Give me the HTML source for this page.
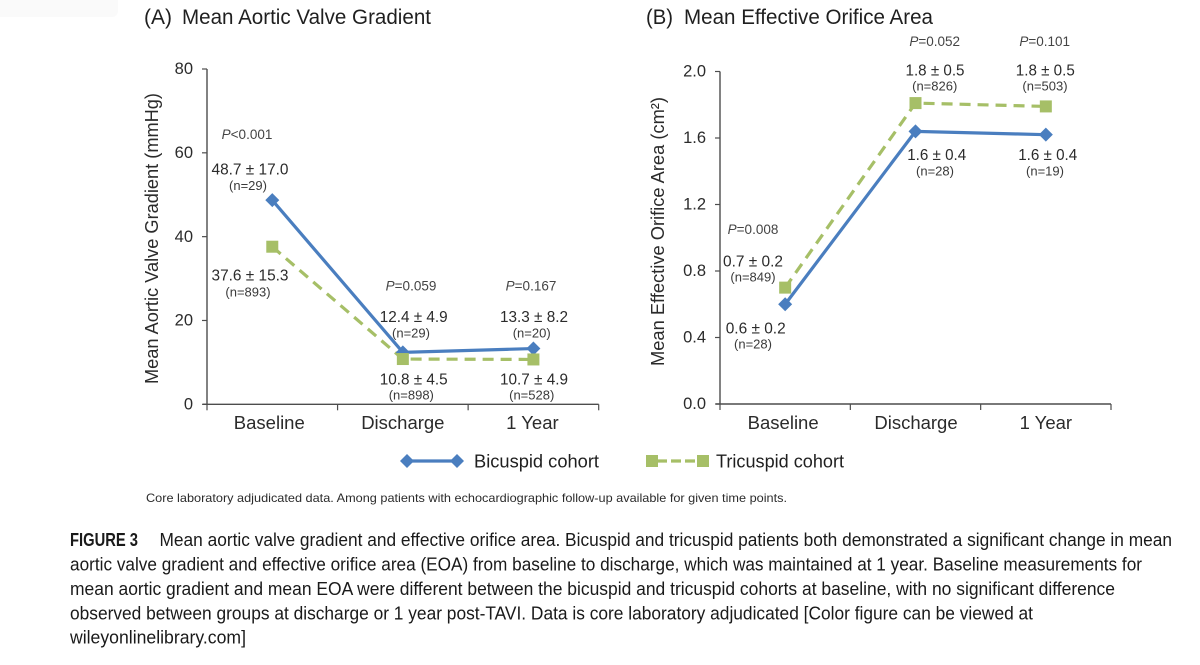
<!DOCTYPE html>
<html lang="en">
<head>
<meta charset="utf-8">
<title>Mean Aortic Valve Gradient and Effective Orifice Area</title>
<style>
html,body{margin:0;padding:0;background:#fff;}
body{width:1200px;height:665px;overflow:hidden;}
svg{display:block;filter:blur(0.3px);}
text{font-family:"Liberation Sans",sans-serif;fill:#222;}
.title{font-size:21px;fill:#1f1f1f;}
.tick{font-size:16.5px;fill:#2b2b2b;}
.cat{font-size:18.5px;fill:#2b2b2b;text-anchor:middle;}
.axt{font-size:18.5px;fill:#2b2b2b;text-anchor:middle;}
.val{font-size:16px;fill:#2b2b2b;text-anchor:middle;}
.n{font-size:13px;fill:#3a3a3a;text-anchor:middle;}
.p{font-size:13.5px;fill:#444;text-anchor:middle;}
.leg{font-size:18.5px;fill:#1f1f1f;}
.foot{font-size:12px;fill:#2b2b2b;}
.cap{font-size:18.5px;fill:#1a1a1a;}
</style>
</head>
<body>
<svg id="chart" xmlns="http://www.w3.org/2000/svg" width="1200" height="665" viewBox="0 0 1200 665">
  <rect width="1200" height="665" fill="#fff"/>
  <rect x="-10" y="-10" width="128" height="27" rx="6" fill="#fafafa"/>

  <text class="title" x="144" y="24" textLength="28" lengthAdjust="spacingAndGlyphs">(A)</text>
  <text class="title" x="182" y="24" textLength="249" lengthAdjust="spacingAndGlyphs">Mean Aortic Valve Gradient</text>
  <text class="title" x="646" y="24" textLength="27" lengthAdjust="spacingAndGlyphs">(B)</text>
  <text class="title" x="684" y="24" textLength="249" lengthAdjust="spacingAndGlyphs">Mean Effective Orifice Area</text>

  <text class="axt" transform="translate(158 238.5) rotate(-90)" textLength="291" lengthAdjust="spacingAndGlyphs">Mean Aortic Valve Gradient (mmHg)</text>
  <text class="axt" transform="translate(664 231.5) rotate(-90)" textLength="269" lengthAdjust="spacingAndGlyphs">Mean Effective Orifice Area (cm²)</text>

  <g id="axes"></g>
  <g id="marks"></g>

  <g>
    <text class="p" x="247" y="139"><tspan font-style="italic">P</tspan>&lt;0.001</text>
    <text class="val" x="250" y="174.5" textLength="77" lengthAdjust="spacingAndGlyphs">48.7 ± 17.0</text>
    <text class="n" x="248" y="190">(n=29)</text>
    <text class="val" x="250" y="280.5" textLength="77" lengthAdjust="spacingAndGlyphs">37.6 ± 15.3</text>
    <text class="n" x="248" y="296.5">(n=893)</text>
    <text class="p" x="411" y="290.5"><tspan font-style="italic">P</tspan>=0.059</text>
    <text class="p" x="531" y="290.5"><tspan font-style="italic">P</tspan>=0.167</text>
    <text class="val" x="413.7" y="322" textLength="68" lengthAdjust="spacingAndGlyphs">12.4 ± 4.9</text>
    <text class="n" x="411" y="337.5">(n=29)</text>
    <text class="val" x="534" y="322" textLength="68" lengthAdjust="spacingAndGlyphs">13.3 ± 8.2</text>
    <text class="n" x="531.7" y="337.5">(n=20)</text>
    <text class="val" x="413.7" y="384.5" textLength="68" lengthAdjust="spacingAndGlyphs">10.8 ± 4.5</text>
    <text class="n" x="411.3" y="399.5">(n=898)</text>
    <text class="val" x="534" y="384.5" textLength="68" lengthAdjust="spacingAndGlyphs">10.7 ± 4.9</text>
    <text class="n" x="531.7" y="399.5">(n=528)</text>
  </g>

  <g>
    <text class="p" x="753" y="234"><tspan font-style="italic">P</tspan>=0.008</text>
    <text class="p" x="934.7" y="46"><tspan font-style="italic">P</tspan>=0.052</text>
    <text class="p" x="1044.7" y="46"><tspan font-style="italic">P</tspan>=0.101</text>
    <text class="val" x="935" y="75.5" textLength="59" lengthAdjust="spacingAndGlyphs">1.8 ± 0.5</text>
    <text class="n" x="934.7" y="90.5">(n=826)</text>
    <text class="val" x="1045.3" y="75.5" textLength="59" lengthAdjust="spacingAndGlyphs">1.8 ± 0.5</text>
    <text class="n" x="1045" y="90.5">(n=503)</text>
    <text class="val" x="936.7" y="160" textLength="59" lengthAdjust="spacingAndGlyphs">1.6 ± 0.4</text>
    <text class="n" x="935" y="175.5">(n=28)</text>
    <text class="val" x="1047.7" y="160" textLength="59" lengthAdjust="spacingAndGlyphs">1.6 ± 0.4</text>
    <text class="n" x="1045" y="175.5">(n=19)</text>
    <text class="val" x="753" y="266.5" textLength="60" lengthAdjust="spacingAndGlyphs">0.7 ± 0.2</text>
    <text class="n" x="753" y="281.5">(n=849)</text>
    <text class="val" x="755.7" y="333.5" textLength="60" lengthAdjust="spacingAndGlyphs">0.6 ± 0.2</text>
    <text class="n" x="753" y="348.5">(n=28)</text>
  </g>

  <g>
    <g>
      <line x1="407" y1="461" x2="457" y2="461" stroke="#4a7ebf" stroke-width="3.2"/>
      <polygon points="407,454 414,461 407,468 400,461" fill="#4a7ebf"/>
      <polygon points="457,454 464,461 457,468 450,461" fill="#4a7ebf"/>
      <text class="leg" x="474" y="467.5" textLength="125" lengthAdjust="spacingAndGlyphs">Bicuspid cohort</text>
    </g>
    <g>
      <line x1="657" y1="461" x2="698" y2="461" stroke="#a6bf67" stroke-width="3.2" stroke-dasharray="10 4"/>
      <rect x="646" y="455" width="12" height="12" fill="#a6bf67"/>
      <rect x="697" y="455" width="12" height="12" fill="#a6bf67"/>
      <text class="leg" x="716" y="467.5" textLength="128" lengthAdjust="spacingAndGlyphs">Tricuspid cohort</text>
    </g>
  </g>

  <text class="foot" x="146" y="502" textLength="641" lengthAdjust="spacingAndGlyphs">Core laboratory adjudicated data. Among patients with echocardiographic follow-up available for given time points.</text>

  <g>
    <text class="cap" x="70" y="546" font-weight="bold" font-size="16" textLength="68" lengthAdjust="spacingAndGlyphs">FIGURE 3</text>
    <text class="cap" x="159.5" y="546" textLength="1012.5" lengthAdjust="spacingAndGlyphs">Mean aortic valve gradient and effective orifice area. Bicuspid and tricuspid patients both demonstrated a significant change in mean</text>
    <text class="cap" x="70" y="570.5" textLength="1072" lengthAdjust="spacingAndGlyphs">aortic valve gradient and effective orifice area (EOA) from baseline to discharge, which was maintained at 1 year. Baseline measurements for</text>
    <text class="cap" x="70" y="595" textLength="1045" lengthAdjust="spacingAndGlyphs">mean aortic gradient and mean EOA were different between the bicuspid and tricuspid cohorts at baseline, with no significant difference</text>
    <text class="cap" x="70" y="619.5" textLength="963" lengthAdjust="spacingAndGlyphs">observed between groups at discharge or 1 year post-TAVI. Data is core laboratory adjudicated [Color figure can be viewed at</text>
    <text class="cap" x="70" y="643.5" textLength="176" lengthAdjust="spacingAndGlyphs">wileyonlinelibrary.com]</text>
  </g>
</svg>

<script>
var categories = ['Baseline', 'Discharge', '1 Year'];

var gradientTicks = ['0', '20', '40', '60', '80'];
var gradientBicuspid = [48.7, 12.4, 13.3];
var gradientTricuspid = [37.6, 10.8, 10.7];

var eoaTicks = ['0.0', '0.4', '0.8', '1.2', '1.6', '2.0'];
var eoaBicuspid = [0.6, 1.64, 1.62];
var eoaTricuspid = [0.7, 1.81, 1.79];

var BLUE = '#4a7ebf';
var GREEN = '#a6bf67';
var AXIS = '#4d4d4d';
var NS = 'http://www.w3.org/2000/svg';
var axesLayer = document.getElementById('axes');
var marksLayer = document.getElementById('marks');

function make(tag, parent, attrs) {
  var el = document.createElementNS(NS, tag);
  for (var k in attrs) el.setAttribute(k, attrs[k]);
  parent.appendChild(el);
  return el;
}

function drawPanel(key, frame, ticks, catLabelX, bicuspid, tricuspid) {
  var maxVal = parseFloat(ticks[ticks.length - 1]);
  var band = (frame.right - frame.left) / categories.length;
  function xAt(i) { return frame.left + band * (i + 0.5); }
  function yAt(v) { return frame.bottom - (v / maxVal) * (frame.bottom - frame.top); }

  var yLine = make('line', axesLayer, {x1: frame.left, x2: frame.left, y1: frame.top, y2: frame.bottom, stroke: AXIS, 'stroke-width': 1.4});
  
  
  var xLine = make('line', axesLayer, {x1: frame.left - 4, x2: frame.right, y1: frame.bottom, y2: frame.bottom, stroke: AXIS, 'stroke-width': 1.4});
  
  

  ticks.forEach(function (t) {
    var y = yAt(parseFloat(t));
    var mark = make('line', axesLayer, {x1: frame.left - 5, x2: frame.left, y1: y, y2: y, stroke: AXIS, 'stroke-width': 1.2});
    
    
    var label = make('text', axesLayer, {x: frame.left - frame.tickGap, y: y + 5.2, 'text-anchor': 'end', 'class': 'tick'});
    
    
    label.textContent = t;
  });

  for (var i = 0; i <= categories.length; i++) {
    var tx = frame.left + band * i;
    var xt = make('line', axesLayer, {x1: tx, x2: tx, y1: frame.bottom, y2: frame.bottom + 6, stroke: AXIS, 'stroke-width': 1.2});
    
    
  }

  categories.forEach(function (c, i) {
    var cat = make('text', axesLayer, {x: xAt(i) + catLabelX[i], y: 429, 'class': 'cat'});
    
    
    cat.textContent = c;
  });

  function pointString(values) {
    return values.map(function (v, i) { return xAt(i) + ',' + yAt(v); }).join(' ');
  }

  var triLine = make('polyline', marksLayer, {points: pointString(tricuspid), fill: 'none', stroke: GREEN, 'stroke-width': 3.2, 'stroke-dasharray': '11 7'});
  
  

  var biLine = make('polyline', marksLayer, {points: pointString(bicuspid), fill: 'none', stroke: BLUE, 'stroke-width': 3.2});
  
  

  bicuspid.forEach(function (v, i) {
    var cx = xAt(i), cy = yAt(v), r = 7;
    var d = make('polygon', marksLayer, {points: cx + ',' + (cy - r) + ' ' + (cx + r) + ',' + cy + ' ' + cx + ',' + (cy + r) + ' ' + (cx - r) + ',' + cy, fill: BLUE});
    
    
  });

  tricuspid.forEach(function (v, i) {
    var s = make('rect', marksLayer, {x: xAt(i) - 6, y: yAt(v) - 6, width: 12, height: 12, fill: GREEN});
    
    
  });
}

drawPanel('panel-a', {left: 207, right: 598.7, top: 69, bottom: 404.3, tickGap: 14}, gradientTicks, [-3, 0, -1], gradientBicuspid, gradientTricuspid);
drawPanel('panel-b', {left: 720, right: 1111, top: 71.5, bottom: 404, tickGap: 14}, eoaTicks, [-2, 0.5, 0], eoaBicuspid, eoaTricuspid);
</script>
</body>
</html>
